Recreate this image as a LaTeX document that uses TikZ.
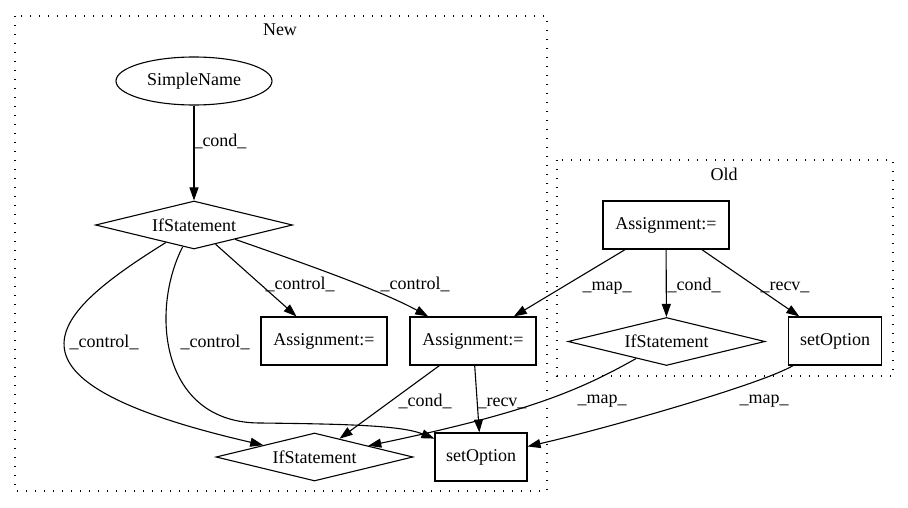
\documentclass[tikz,border=0pt]{standalone}
\usepackage{fontspec}
\setmainfont{Liberation Serif}
\usetikzlibrary{shapes.geometric,arrows.meta}
\begin{document}
\begin{tikzpicture}[x=1pt,y=-1pt,
  every node/.style={font=\fontsize{18}{20}\selectfont},
  box/.style={draw,line width=1.1pt,rectangle,inner sep=0pt,minimum height=48pt},
  dia/.style={draw,line width=1.1pt,diamond,aspect=4,inner sep=0pt,minimum width=197pt,minimum height=48pt},
  oval/.style={draw,line width=1.1pt,ellipse,inner sep=0pt,minimum width=156pt,minimum height=48pt},
  conn/.style={line width=1.1pt,-{Triangle[length=13pt,width=9pt]}},
  lbl/.style={anchor=base,inner sep=0pt},
  cluster/.style={line width=1.3pt,dash pattern=on 1.3pt off 7.7pt}]
\useasboundingbox (0,0) rectangle (908,508);
% clusters
\draw[cluster] (15,16) rectangle (547,491);
\draw[cluster] (557,160) rectangle (893,376);
\node[lbl] (tnew) at (280,36) {New};
\node[lbl] (told) at (724,180) {Old};
% nodes
\node[oval] (sn) at (194,81) {SimpleName};
\node[dia] (ifn) at (194,225) {IfStatement};
\node[box,minimum width=126pt] (asm) at (324,341) {Assignment:=};
\node[box,minimum width=126pt] (asr) at (473,341) {Assignment:=};
\node[dia] (ifb) at (314.5,457) {IfStatement};
\node[box,minimum width=92pt] (seto) at (481,457) {setOption};
\node[box,minimum width=126pt] (aso) at (666,225) {Assignment:=};
\node[dia] (ifo) at (666.5,341.5) {IfStatement};
\node[box,minimum width=93pt] (seo) at (835,341) {setOption};
% edges
\draw[conn] (sn) -- (ifn);
\draw[conn] (ifn) -- (asm);
\draw[conn] (ifn) .. controls (300,262) and (380,290) .. (asr);
\draw[conn] (ifn) .. controls (51,314) and (-19,380) .. (ifb);
\draw[conn] (ifn) .. controls (150,310) and (160,423) .. (260,423) .. controls (340,424) and (400,425) .. (seto);
\draw[conn] (asr) -- (ifb);
\draw[conn] (asr) -- (seto);
\draw[conn] (aso) -- (asr);
\draw[conn] (aso) -- (ifo);
\draw[conn] (aso) -- (seo);
\draw[conn] (ifo) .. controls (580,390) and (530,412) .. (ifb);
\draw[conn] (seo) .. controls (760,385) and (600,430) .. (seto);
% edge labels
\node[lbl] (l1) at (220,147) {\_cond\_};
\node[lbl] (l2) at (300,289) {\_control\_};
\node[lbl] (l3) at (415,289) {\_control\_};
\node[lbl] (l4) at (104,347) {\_control\_};
\node[lbl] (l5) at (215,347) {\_control\_};
\node[lbl] (l6) at (425,406) {\_cond\_};
\node[lbl] (l7) at (502,406) {\_recv\_};
\node[lbl] (l8) at (607,290) {\_map\_};
\node[lbl] (l9) at (694,290) {\_cond\_};
\node[lbl] (l10) at (785,290) {\_recv\_};
\node[lbl] (l11) at (602,403) {\_map\_};
\node[lbl] (l12) at (764,403) {\_map\_};
\end{tikzpicture}
\end{document}
